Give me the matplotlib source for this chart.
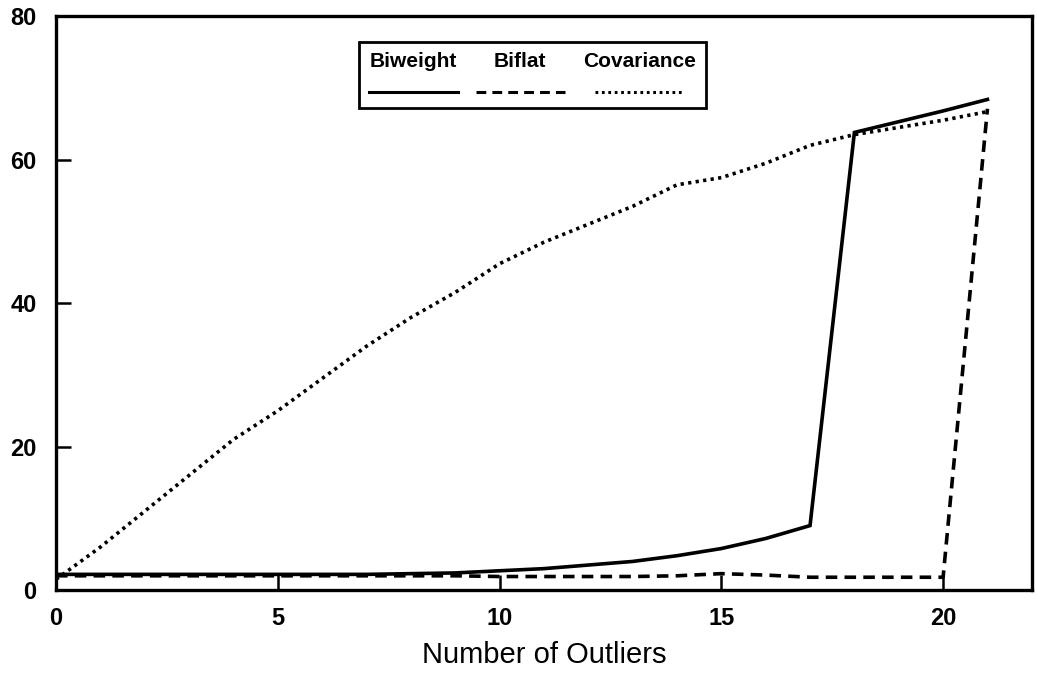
import numpy as np
import matplotlib

matplotlib.use("Agg")
import matplotlib.pyplot as plt
from matplotlib.lines import Line2D
from matplotlib.offsetbox import (AnchoredOffsetbox, DrawingArea, HPacker,
                                  TextArea, VPacker)

plt.rcParams["font.family"] = ["Liberation Sans", "DejaVu Sans"]

OUTLIERS = np.arange(0, 22)

BIWEIGHT = [2.2, 2.2, 2.2, 2.2, 2.2, 2.2, 2.2, 2.2, 2.3, 2.4, 2.7,
            3.0, 3.5, 4.0, 4.8, 5.8, 7.2, 9.0, 63.8, 65.3, 66.8, 68.4]
BIFLAT = [2.0, 2.0, 2.0, 2.0, 2.0, 2.0, 2.0, 2.0, 2.0, 2.0, 1.9,
          1.9, 1.9, 1.9, 2.0, 2.3, 2.1, 1.8, 1.8, 1.8, 1.8, 67.1]
COVARIANCE = [1.5, 6.0, 11.0, 16.0, 21.0, 25.0, 29.5, 34.0, 38.0, 41.5, 45.5,
              48.5, 51.0, 53.5, 56.5, 57.5, 59.5, 62.0, 63.5, 64.5, 65.5, 66.7]

SERIES = [
    ("Biweight", BIWEIGHT, "-"),
    ("Biflat", BIFLAT, (0, (3.2, 2.0))),
    ("Covariance", COVARIANCE, (0, (0.9, 1.2))),
]


def main():
    fig = plt.figure(figsize=(10.37, 6.76), dpi=100)
    ax = fig.add_axes([0.054, 0.127, 0.941, 0.849])

    for label, values, style in SERIES:
        ax.plot(OUTLIERS, values, color="black", linestyle=style,
                linewidth=2.6, solid_joinstyle="miter")

    ax.set_xlim(0, 22.0)
    ax.set_ylim(0, 80)
    ax.set_xticks([0, 5, 10, 15, 20])
    ax.set_yticks([0, 20, 40, 60, 80])
    ax.tick_params(direction="in", length=11, width=1.8, labelsize=17)
    ax.tick_params(axis="x", pad=12)
    ax.tick_params(axis="y", pad=14)
    for lab in ax.get_xticklabels() + ax.get_yticklabels():
        lab.set_fontweight("bold")
    for spine in ax.spines.values():
        spine.set_linewidth(2.4)
    ax.set_xlabel("Number of Outliers", fontsize=21, labelpad=8)

    # legend: label over a short line sample, three side by side
    columns = []
    for label, values, style in SERIES:
        text = TextArea(label, textprops=dict(fontsize=15, fontweight="bold"))
        sample = DrawingArea(64, 10, 0, 0)
        sample.add_artist(Line2D([0, 64], [4, 4], color="black",
                                 linestyle=style, linewidth=2.2))
        columns.append(VPacker(children=[text, sample], align="center",
                               pad=0, sep=9))
    packed = HPacker(children=columns, align="center", pad=0, sep=13)
    legend = AnchoredOffsetbox(loc="upper left", child=packed, pad=0.75,
                               borderpad=0, frameon=True,
                               bbox_to_anchor=(0.31, 0.955),
                               bbox_transform=ax.transAxes)
    legend.patch.set_linewidth(2.0)
    legend.patch.set_boxstyle("square", pad=0)
    ax.add_artist(legend)

    fig.savefig("out.png", dpi=100)


if __name__ == "__main__":
    main()
